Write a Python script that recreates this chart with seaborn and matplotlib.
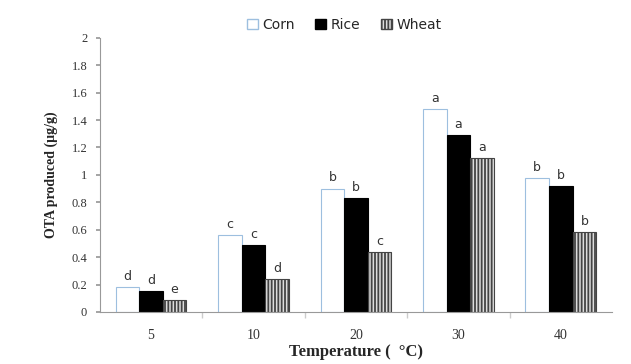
import matplotlib
matplotlib.use("Agg")
import matplotlib.pyplot as plt
import seaborn as sns
import pandas as pd
from matplotlib.patches import Patch

temps = ["5", "10", "20", "30", "40"]
series = ["Corn", "Rice", "Wheat"]
corn = [0.18, 0.56, 0.90, 1.48, 0.98]
rice = [0.15, 0.49, 0.83, 1.29, 0.92]
wheat = [0.09, 0.24, 0.44, 1.12, 0.58]
corn_letters = ["d", "c", "b", "a", "b"]
rice_letters = ["d", "c", "b", "a", "b"]
wheat_letters = ["e", "d", "c", "a", "b"]
yticks = [0, 0.2, 0.4, 0.6, 0.8, 1, 1.2, 1.4, 1.6, 1.8, 2]
ytick_labels = ["0", "0.2", "0.4", "0.6", "0.8", "1", "1.2", "1.4", "1.6", "1.8", "2"]

rows = []
for s, vals in zip(series, [corn, rice, wheat]):
    for t, v in zip(temps, vals):
        rows.append({"Temperature": t, "Grain": s, "OTA": v})
df = pd.DataFrame(rows)

sns.set_theme(style="white")
plt.rcParams["hatch.linewidth"] = 1.3
fig = plt.figure(figsize=(6.31, 3.64), dpi=100)
ax = fig.add_axes([0.158, 0.143, 0.812, 0.753])

sns.barplot(data=df, x="Temperature", y="OTA", hue="Grain", order=temps,
            hue_order=series, width=0.69, ax=ax, legend=False, errorbar=None)

edge_cols = {"Corn": "#9dbfdf", "Rice": "black", "Wheat": "#444444"}
face_cols = {"Corn": "white", "Rice": "black", "Wheat": "#dddddd"}
hatches = {"Corn": None, "Rice": None, "Wheat": "|||||"}
letters = {"Corn": corn_letters, "Rice": rice_letters, "Wheat": wheat_letters}
for cont, s in zip(ax.containers, series):
    for i, bar in enumerate(cont):
        bar.set_facecolor(face_cols[s])
        bar.set_edgecolor(edge_cols[s])
        bar.set_linewidth(0.8)
        if hatches[s]:
            bar.set_hatch(hatches[s])
        ax.text(bar.get_x() + bar.get_width() / 2, bar.get_height() + 0.03,
                letters[s][i], ha="center", va="bottom", fontsize=9,
                color="#333333", family="DejaVu Sans")

ax.set_ylim(0, 2)
ax.set_xlim(-0.5, 4.5)
ax.set_yticks(yticks)
ax.set_yticklabels(ytick_labels, family="Liberation Serif", fontsize=9, color="#333333")
ax.set_xticklabels(temps, family="Liberation Serif", fontsize=10, color="#333333")
for sp in ["top", "right"]:
    ax.spines[sp].set_visible(False)
for sp in ["left", "bottom"]:
    ax.spines[sp].set_color("#999999")
    ax.spines[sp].set_linewidth(0.8)
ax.tick_params(axis="y", which="both", left=True, length=3, color="#999999", pad=6)
ax.tick_params(axis="x", bottom=False, pad=6)
ax.set_xticks([0.5, 1.5, 2.5, 3.5], minor=True)
ax.tick_params(axis="x", which="minor", bottom=True, length=4, color="#cccccc")

ax.set_xlabel("Temperature (  \u00b0C)", family="Liberation Serif", fontweight="bold",
              fontsize=12, labelpad=2)
ax.set_ylabel("OTA produced (\u00b5g/g)", family="Liberation Serif", fontweight="bold",
              fontsize=10, labelpad=10)

handles = [Patch(facecolor=face_cols[s], edgecolor=edge_cols[s], hatch=hatches[s], label=s)
           for s in series]
fig.legend(handles=handles, loc="upper center", bbox_to_anchor=(0.545, 0.985), ncol=3,
           frameon=False, fontsize=10, handlelength=0.8, handleheight=0.8,
           columnspacing=1.5, handletextpad=0.3)

fig.savefig("out.png", dpi=100)
